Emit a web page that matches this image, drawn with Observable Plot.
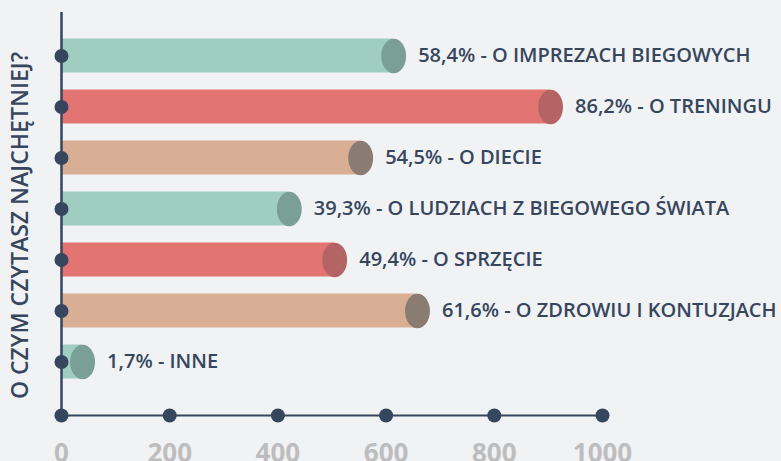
<!DOCTYPE html>
<html>
<head>
<meta charset="utf-8">
<script src="https://cdn.jsdelivr.net/npm/d3@7"></script>
<script src="https://cdn.jsdelivr.net/npm/@observablehq/plot@0.6"></script>
<style>
  html, body { margin: 0; padding: 0; background: #f1f2f4; }
  #chart svg { display: block; }
</style>
</head>
<body>
<div id="chart"></div>
<script>
// ---- data ----
const categories = [
  "O IMPREZACH BIEGOWYCH",
  "O TRENINGU",
  "O DIECIE",
  "O LUDZIACH Z BIEGOWEGO ŚWIATA",
  "O SPRZĘCIE",
  "O ZDROWIU I KONTUZJACH",
  "INNE"
];
const percents = ["58,4%", "86,2%", "54,5%", "39,3%", "49,4%", "61,6%", "1,7%"];
const values = [614, 904, 553, 421, 505, 658, 39];
const groups = ["g", "r", "t", "g", "r", "t", "g"];
const xTicks = [0, 200, 400, 600, 800, 1000];
const axisTitle = "O CZYM CZYTASZ NAJCHĘTNIEJ?";

// ---- styles ----
const barFill = { g: "#9fcec0", r: "#e27571", t: "#d8ae94" };
const capFill = { g: "#7aa096", r: "#b46464", t: "#8a7b73" };
const dark = "#35465e";
const font = "'Open Sans', sans-serif";

const data = categories.map((c, i) => ({ cat: c, pct: percents[i], value: values[i], group: groups[i] }));

// ellipse symbol for the bar caps
const ellipse = {
  draw(ctx, size) {
    const ry = Math.sqrt(size / Math.PI);
    const rx = ry * 0.72;
    const k = 0.5523;
    ctx.moveTo(rx, 0);
    ctx.bezierCurveTo(rx, k * ry, k * rx, ry, 0, ry);
    ctx.bezierCurveTo(-k * rx, ry, -rx, k * ry, -rx, 0);
    ctx.bezierCurveTo(-rx, -k * ry, -k * rx, -ry, 0, -ry);
    ctx.bezierCurveTo(k * rx, -ry, rx, -k * ry, rx, 0);
    ctx.closePath();
  }
};

const chart = Plot.plot({
  width: 781,
  height: 461,
  marginLeft: 61,
  marginRight: 179,
  marginTop: 12,
  marginBottom: 46,
  style: { background: "#f1f2f4", fontFamily: font, overflow: "visible" },
  x: { domain: [0, 1000], axis: null },
  y: { type: "band", domain: categories, range: [28.25, 388.75], padding: 0, axis: null },
  color: { type: "identity" },
  marks: [
    Plot.barX(data, { x: "value", y: "cat", fill: d => barFill[d.group], insetTop: 8.5, insetBottom: 8.5 }),
    Plot.dot(data, { x: "value", y: "cat", r: 17.3, symbol: ellipse, fill: d => capFill[d.group], stroke: null }),
    Plot.text(data, {
      x: "value", y: "cat",
      text: d => `${d.pct} - ${d.cat}`,
      textAnchor: "start", dx: 24.5,
      fontSize: 20, fontWeight: 600, fill: dark, fontFamily: font
    }),
    Plot.ruleX([0], { stroke: dark, strokeWidth: 2.5 }),
    Plot.frame({ anchor: "bottom", stroke: dark, strokeWidth: 2 }),
    Plot.dot(data, { y: "cat", frameAnchor: "left", r: 7, fill: dark, stroke: null }),
    Plot.dot(xTicks, { x: d => d, frameAnchor: "bottom", r: 7, fill: dark, stroke: null }),
    Plot.text(xTicks, {
      x: d => d, frameAnchor: "bottom", dy: 46,
      text: d => String(d),
      fontSize: 26, fontWeight: 700, fill: "#bdbdbd", fontFamily: font
    }),
    Plot.text([axisTitle], {
      frameAnchor: "left", rotate: -90, dx: -41, dy: 11.5,
      textAnchor: "middle",
      text: d => d,
      fontSize: 23, fontWeight: 600, fill: dark, fontFamily: font
    })
  ]
});
document.getElementById("chart").appendChild(chart);
</script>
</body>
</html>
